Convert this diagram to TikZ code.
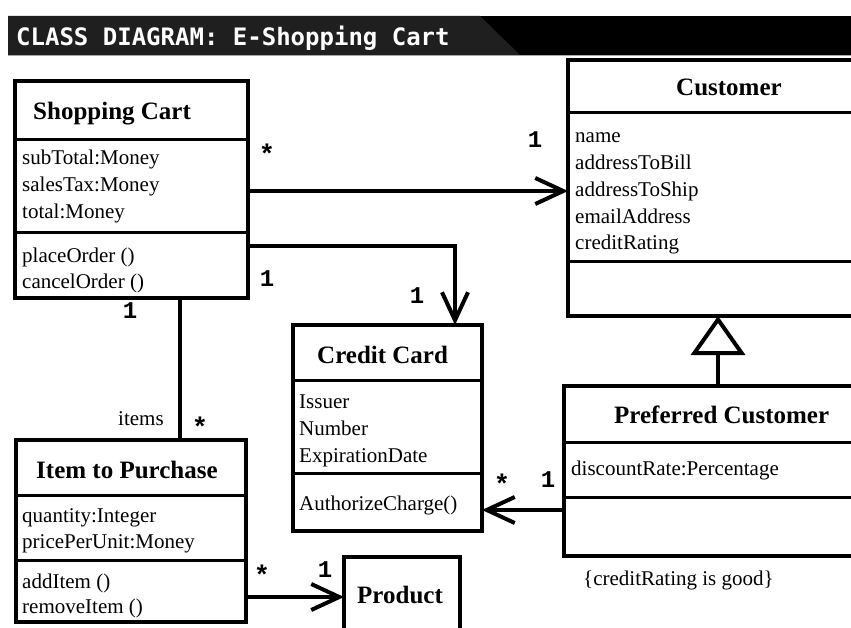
\documentclass[tikz,border=0pt]{standalone}
\usepackage{fontspec}
\setmainfont{Liberation Serif}
\newfontfamily\multfont{Liberation Mono}
\newfontfamily\bannerfont{DejaVu Sans Mono}
\usetikzlibrary{arrows.meta}
\newcommand\umlclass[5]{\node[classbox, minimum width={#4-#2-4}, minimum height={#5-#3-4}] (#1) at ({(#2+#4)/2},{(#3+#5)/2}) {};}
\newcommand\members[5]{\foreach \m [count=\k from 0] in {#5}{\node[member] (#1-\k) at (#2,{#3+#4*\k}) {\m};}}
\begin{document}
\begin{tikzpicture}[x=1pt,y=-1pt,line join=miter,
  classbox/.style={draw, line width=4pt, fill=white, inner sep=0pt, outer sep=0pt},
  divider/.style={line width=3pt},
  ctitle/.style={font={\fontsize{25}{25}\selectfont\bfseries}, anchor=base west, inner sep=0pt},
  member/.style={font={\fontsize{21}{21}\selectfont}, anchor=base west, inner sep=0pt},
  mult/.style={font={\multfont\fontsize{24}{24}\selectfont\bfseries}, anchor=base, inner sep=0pt},
  multstar/.style={font={\multfont\fontsize{27}{27}\selectfont\bfseries}, anchor=base, inner sep=0pt},
  conn/.style={line width=4pt},
  assoc/.style={conn, -{Straight Barb[length=28pt,width=26pt]}},
  gen/.style={conn, -{Triangle[open,length=39pt,width=54pt]}},
]
\useasboundingbox (0,0) rectangle (851,628);
\clip (0,0) rectangle (851,628);
\fill[white] (0,0) rectangle (851,628);

% banner
\fill[black] (8,16) rectangle (851,55);
\fill[black!88] (8,16) -- (480,16) -- (520,55) -- (8,55) -- cycle;
\draw[black!35, line width=1pt] (8,55.5) -- (851,55.5);
\node[font={\bannerfont\fontsize{24}{24}\selectfont\bfseries}, text=white, anchor=base west, inner sep=0pt] (banner) at (16,46) {CLASS DIAGRAM: E-Shopping Cart};

% Shopping Cart
\umlclass{sc}{13}{79}{250}{300}
\draw[divider] (13,140) -- (250,140);
\draw[divider] (13,233) -- (250,233);
\node[ctitle] (sc-t) at (33,120) {Shopping Cart};
\members{sca}{22}{165}{27}{subTotal:Money,salesTax:Money,total:Money}
\members{scm}{22}{262}{26}{placeOrder (),cancelOrder ()}

% Customer
\umlclass{cust}{566}{58}{900}{318}
\draw[divider] (566,113) -- (900,113);
\draw[divider] (566,262) -- (900,262);
\node[ctitle] (cust-t) at (676,96) {Customer};
\members{cua}{575}{143}{26.75}{name,addressToBill,addressToShip,emailAddress,creditRating}

% Credit Card
\umlclass{cc}{291}{323}{484}{533}
\draw[divider] (291,380) -- (484,380);
\draw[divider] (291,473) -- (484,473);
\node[ctitle] (cc-t) at (317,363) {Credit Card};
\members{cca}{299}{408}{27}{Issuer,Number,ExpirationDate}
\members{ccm}{299}{510}{27}{AuthorizeCharge()}

% Preferred Customer
\umlclass{pc}{562}{384}{900}{558}
\draw[divider] (562,442) -- (900,442);
\draw[divider] (562,497) -- (900,497);
\node[ctitle] (pc-t) at (614,423) {Preferred Customer};
\members{pca}{571}{475}{27}{discountRate:Percentage}
\node[member] (constraint) at (583,585) {\{creditRating is good\}};

% Item to Purchase
\umlclass{itp}{14}{438}{248}{624}
\draw[divider] (14,495) -- (248,495);
\draw[divider] (14,560) -- (248,560);
\node[ctitle] (itp-t) at (36,478) {Item to Purchase};
\members{ita}{22}{522}{26}{quantity:Integer,pricePerUnit:Money}
\members{itm}{22}{588}{25}{addItem (),removeItem ()}

% Product
\umlclass{prod}{342}{555}{462}{670}
\node[ctitle] (prod-t) at (357,603) {Product};

% connectors
\coordinate (r1) at (0,191);
\coordinate (r2) at (0,246);
\coordinate (c2) at (455,0);
\coordinate (r3) at (0,510);
\coordinate (c4) at (180,0);
\coordinate (r5) at (0,597);
\coordinate (c6) at (718,0);
\draw[assoc] (sc.east |- r1) -- (cust.west |- r1);
\draw[assoc] (sc.east |- r2) -| (cc.north -| c2);
\draw[assoc] (pc.west |- r3) -- (cc.east |- r3);
\draw[conn] (sc.south -| c4) -- (itp.north -| c4);
\draw[assoc] (itp.east |- r5) -- (prod.west |- r5);
\draw[gen] (pc.north -| c6) -- (cust.south -| c6);

% multiplicities and role
\node[multstar] (m1) at (267,164) {*};
\node[mult] (m2) at (535,148) {1};
\node[mult] (m3) at (267,287) {1};
\node[mult] (m4) at (417,303) {1};
\node[mult] (m5) at (130,318) {1};
\node[member] (itemsrole) at (118,425) {items};
\node[multstar] (m6) at (200,436) {*};
\node[multstar] (m7) at (502,493) {*};
\node[mult] (m8) at (548,487) {1};
\node[multstar] (m9) at (262,584) {*};
\node[mult] (m10) at (325,577) {1};
\end{tikzpicture}
\end{document}
